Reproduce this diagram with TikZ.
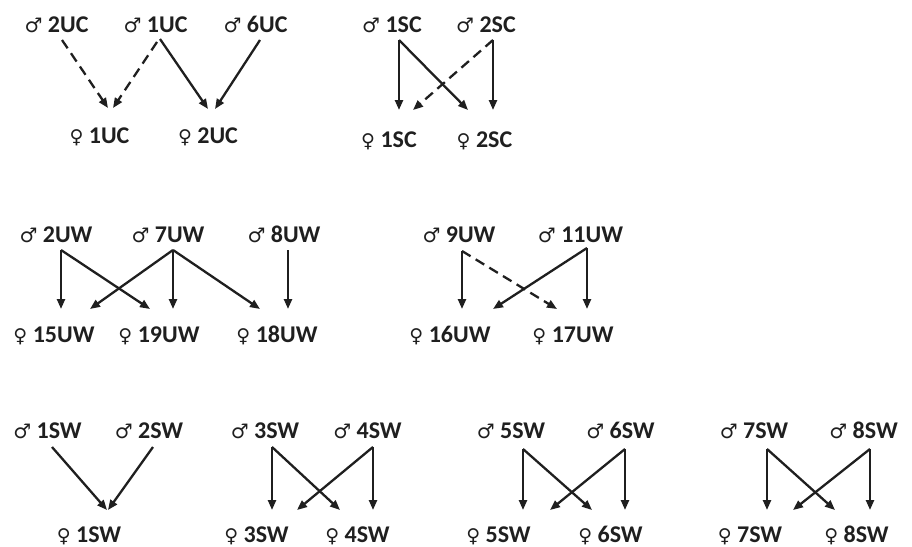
\documentclass[tikz,border=0pt]{standalone}
\usepackage{fontspec}
\setmainfont{Carlito}
\newfontfamily\symfont{DejaVu Sans}
\usetikzlibrary{arrows.meta}
\newcommand{\malesym}{{\symfont\fontsize{20}{20}\selectfont ♂}}
\newcommand{\femsym}{{\symfont\fontsize{19}{19}\selectfont ♀}}
\begin{document}
\begin{tikzpicture}[x=1pt,y=-1pt,
  lbl/.style={font=\fontsize{24}{27}\selectfont\bfseries, inner sep=0pt, anchor=base, text=black!88},
  arr/.style={line width=2.3pt, draw=black!88, -{Triangle[length=10pt,width=8pt]}},
  dsh/.style={arr, dash pattern=on 10pt off 6pt}]
\useasboundingbox (0,0) rectangle (912,546);

% ---- UC crosses
\node[lbl] (m2UC) at (56.5,32) {\malesym\ 2UC};
\node[lbl] (m1UC) at (155.5,32) {\malesym\ 1UC};
\node[lbl] (m6UC) at (255.5,32) {\malesym\ 6UC};
\node[lbl] (f1UC) at (99.5,143) {\femsym\ 1UC};
\node[lbl] (f2UC) at (208,143) {\femsym\ 2UC};
\draw[dsh] ([xshift=5.5pt,yshift=-8pt]m2UC.base) -- ([xshift=8.5pt,yshift=35pt]f1UC.base);
\draw[dsh] ([xshift=1.5pt,yshift=-10pt]m1UC.base) -- ([xshift=13.5pt,yshift=35pt]f1UC.base);
\draw[arr] ([xshift=4.5pt,yshift=-7pt]m1UC.base) -- ([xshift=0pt,yshift=34pt]f2UC.base);
\draw[arr] ([xshift=4.5pt,yshift=-8pt]m6UC.base) -- ([xshift=7pt,yshift=34pt]f2UC.base);

% ---- SC crosses
\node[lbl] (m1SC) at (392,32) {\malesym\ 1SC};
\node[lbl] (m2SC) at (486,32) {\malesym\ 2SC};
\node[lbl] (f1SC) at (389,147) {\femsym\ 1SC};
\node[lbl] (f2SC) at (484.5,147) {\femsym\ 2SC};
\draw[arr] ([xshift=7pt,yshift=-8pt]m1SC.base) -- ([xshift=10pt,yshift=37pt]f1SC.base);
\draw[arr] ([xshift=7pt,yshift=-8pt]m1SC.base) -- ([xshift=-16.5pt,yshift=37pt]f2SC.base);
\draw[arr] ([xshift=7pt,yshift=-8pt]m2SC.base) -- ([xshift=8.5pt,yshift=37pt]f2SC.base);
\draw[dsh] ([xshift=7pt,yshift=-8pt]m2SC.base) -- ([xshift=24pt,yshift=37pt]f1SC.base);

% ---- UW crosses, first set
\node[lbl] (m2UW) at (56,242) {\malesym\ 2UW};
\node[lbl] (m7UW) at (168,242) {\malesym\ 7UW};
\node[lbl] (m8UW) at (284,242) {\malesym\ 8UW};
\node[lbl] (f15UW) at (54,342) {\femsym\ 15UW};
\node[lbl] (f19UW) at (159,342) {\femsym\ 19UW};
\node[lbl] (f18UW) at (277,342) {\femsym\ 18UW};
\draw[arr] ([xshift=5pt,yshift=-8pt]m2UW.base) -- ([xshift=7pt,yshift=33pt]f15UW.base);
\draw[arr] ([xshift=5pt,yshift=-8pt]m2UW.base) -- ([xshift=-9pt,yshift=33pt]f19UW.base);
\draw[arr] ([xshift=5pt,yshift=-8pt]m7UW.base) -- ([xshift=36pt,yshift=33pt]f15UW.base);
\draw[arr] ([xshift=5pt,yshift=-8pt]m7UW.base) -- ([xshift=14pt,yshift=33pt]f19UW.base);
\draw[arr] ([xshift=5pt,yshift=-8pt]m7UW.base) -- ([xshift=-17pt,yshift=33pt]f18UW.base);
\draw[arr] ([xshift=4pt,yshift=-8pt]m8UW.base) -- ([xshift=11pt,yshift=33pt]f18UW.base);

% ---- UW crosses, second set
\node[lbl] (m9UW) at (459,242) {\malesym\ 9UW};
\node[lbl] (m11UW) at (580.5,242) {\malesym\ 11UW};
\node[lbl] (f16UW) at (450,342) {\femsym\ 16UW};
\node[lbl] (f17UW) at (573,342) {\femsym\ 17UW};
\draw[arr] ([xshift=3pt,yshift=-9pt]m9UW.base) -- ([xshift=12pt,yshift=33pt]f16UW.base);
\draw[dsh] ([xshift=3pt,yshift=-9pt]m9UW.base) -- ([xshift=-16pt,yshift=33pt]f17UW.base);
\draw[arr] ([xshift=6.5pt,yshift=-6pt]m11UW.base) -- ([xshift=43pt,yshift=33pt]f16UW.base);
\draw[arr] ([xshift=6.5pt,yshift=-6pt]m11UW.base) -- ([xshift=14pt,yshift=33pt]f17UW.base);

% ---- SW crosses
\node[lbl] (m1SW) at (47.5,438) {\malesym\ 1SW};
\node[lbl] (m2SW) at (149,438) {\malesym\ 2SW};
\node[lbl] (f1SW) at (89,542) {\femsym\ 1SW};
\draw[arr] ([xshift=4.5pt,yshift=-9pt]m1SW.base) -- ([xshift=18pt,yshift=32pt]f1SW.base);
\draw[arr] ([xshift=4pt,yshift=-9pt]m2SW.base) -- ([xshift=19pt,yshift=32pt]f1SW.base);

\node[lbl] (m3SW) at (265,438) {\malesym\ 3SW};
\node[lbl] (m4SW) at (367.5,438) {\malesym\ 4SW};
\node[lbl] (f3SW) at (256.5,542) {\femsym\ 3SW};
\node[lbl] (f4SW) at (357.5,542) {\femsym\ 4SW};
\draw[arr] ([xshift=7pt,yshift=-9pt]m3SW.base) -- ([xshift=15.5pt,yshift=32pt]f3SW.base);
\draw[arr] ([xshift=7pt,yshift=-9pt]m3SW.base) -- ([xshift=-17.5pt,yshift=32pt]f4SW.base);
\draw[arr] ([xshift=5.5pt,yshift=-9pt]m4SW.base) -- ([xshift=15.5pt,yshift=32pt]f4SW.base);
\draw[arr] ([xshift=5.5pt,yshift=-9pt]m4SW.base) -- ([xshift=40.5pt,yshift=32pt]f3SW.base);

\node[lbl] (m5SW) at (511,438) {\malesym\ 5SW};
\node[lbl] (m6SW) at (620.5,438) {\malesym\ 6SW};
\node[lbl] (f5SW) at (498.5,542) {\femsym\ 5SW};
\node[lbl] (f6SW) at (610.5,542) {\femsym\ 6SW};
\draw[arr] ([xshift=12pt,yshift=-11pt]m5SW.base) -- ([xshift=24.5pt,yshift=32pt]f5SW.base);
\draw[arr] ([xshift=12pt,yshift=-11pt]m5SW.base) -- ([xshift=-18.5pt,yshift=32pt]f6SW.base);
\draw[arr] ([xshift=4.5pt,yshift=-11pt]m6SW.base) -- ([xshift=14.5pt,yshift=32pt]f6SW.base);
\draw[arr] ([xshift=4.5pt,yshift=-11pt]m6SW.base) -- ([xshift=51.5pt,yshift=32pt]f5SW.base);

\node[lbl] (m7SW) at (754,438) {\malesym\ 7SW};
\node[lbl] (m8SW) at (863.5,438) {\malesym\ 8SW};
\node[lbl] (f7SW) at (750,542) {\femsym\ 7SW};
\node[lbl] (f8SW) at (856.5,542) {\femsym\ 8SW};
\draw[arr] ([xshift=13pt,yshift=-11pt]m7SW.base) -- ([xshift=17pt,yshift=32pt]f7SW.base);
\draw[arr] ([xshift=13pt,yshift=-11pt]m7SW.base) -- ([xshift=-21.5pt,yshift=32pt]f8SW.base);
\draw[arr] ([xshift=6.5pt,yshift=-11pt]m8SW.base) -- ([xshift=13.5pt,yshift=32pt]f8SW.base);
\draw[arr] ([xshift=6.5pt,yshift=-11pt]m8SW.base) -- ([xshift=43pt,yshift=32pt]f7SW.base);
\end{tikzpicture}
\end{document}
